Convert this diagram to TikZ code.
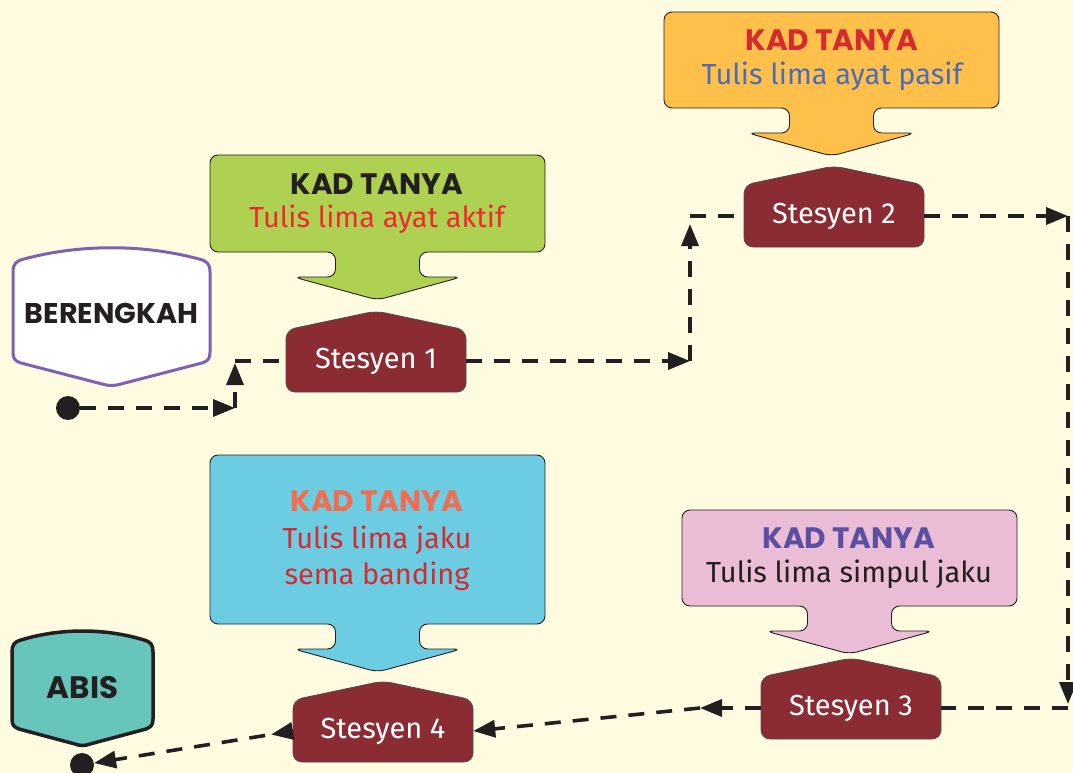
\documentclass[tikz,border=0pt]{standalone}
\usepackage{fontspec}
\setmainfont{Fira Sans}
\newfontfamily\titlefont{Poppins}
\usetikzlibrary{arrows.meta,calc}
\definecolor{bgcol}{HTML}{FEFBE0}
\definecolor{kgreen}{HTML}{AFD152}
\definecolor{korange}{HTML}{FEC04B}
\definecolor{kpink}{HTML}{EBBCD6}
\definecolor{kblue}{HTML}{6CCCE2}
\definecolor{maroon}{HTML}{8B2C34}
\definecolor{teal2}{HTML}{68C5BC}
\definecolor{purp}{HTML}{7C62B1}
\definecolor{ink}{HTML}{231F20}
\definecolor{bred}{HTML}{EE2A2F}
\definecolor{dred}{HTML}{D52A30}
\definecolor{pblue}{HTML}{4C6DB5}
\definecolor{ppurp}{HTML}{5A4FA0}
\definecolor{salmon}{HTML}{F26C4F}
\tikzset{
  cardbox/.style={draw=ink, line width=0.9pt, rounded corners=8},
  stbody/.style={fill=maroon, draw=ink!80, line width=0.8pt, rounded corners=9},
  sttext/.style={minimum width=180pt, minimum height=62pt, inner sep=0pt, text=white, font=\fontsize{29}{32}\selectfont},
  ktitle/.style={font=\titlefont\bfseries\fontsize{29.5}{32}\selectfont, inner sep=0pt},
  kbody/.style={font=\fontsize{29}{36}\selectfont, inner sep=0pt, align=center},
  badgetext/.style={font=\titlefont\bfseries\fontsize{28.5}{30}\selectfont, text=ink, inner sep=0pt},
  conn/.style={draw=ink, line width=3.6pt, dash pattern=on 16pt off 12pt},
  arr/.style={-{Triangle[length=22pt,width=17pt]}},
  dot/.style={circle, fill=ink, minimum size=24pt, inner sep=0pt},
}
\newcommand\drawkad[4]{% left x, top y, bottom y, fill
  \pgfmathsetmacro\kcx{#1+167.5}
  \draw[cardbox, fill=#4] (#1,#2) -- (#1+335,#2) -- (#1+335,#3) -- (\kcx+42,#3) -- (\kcx+42,#3+25)
    -- (\kcx+84,#3+25) -- (\kcx,#3+48) -- (\kcx-84,#3+25) -- (\kcx-42,#3+25) -- (\kcx-42,#3) -- (#1,#3) -- cycle;
}
\newcommand\stesyen[4]{% name, cx, cy, label
  \draw[stbody] (#2-90,#3+31) -- (#2-90,#3-31) -- (#2,#3-50) -- (#2+90,#3-31) -- (#2+90,#3+31) -- cycle;
  \node[sttext] (#1) at (#2,#3) {#4};
}
\begin{document}
\begin{tikzpicture}[x=1pt,y=-1pt]
\fill[bgcol] (0,0) rectangle (1073,773);
\useasboundingbox (0,0) rectangle (1073,773);

% cards
\drawkad{210}{155}{252}{kgreen}
\node[ktitle, text=ink] (k1t) at (377,184) {KAD TANYA};
\node[kbody, text=bred] (k1b) at (377,219) {Tulis lima ayat aktif};

\drawkad{664}{12}{108}{korange}
\node[ktitle, text=dred] (k2t) at (832,40) {KAD TANYA};
\node[kbody, text=pblue] (k2b) at (832,76) {Tulis lima ayat pasif};

\drawkad{682}{510}{606}{kpink}
\node[ktitle, text=ppurp] (k3t) at (849,538) {KAD TANYA};
\node[kbody, text=ink] (k3b) at (849,574) {Tulis lima simpul jaku};

\drawkad{210}{455}{624}{kblue}
\node[ktitle, text=salmon] (k4t) at (377,501) {KAD TANYA};
\node[kbody, text=dred] (k4b) at (377,558) {Tulis lima jaku\\sema banding};

% stations
\stesyen{st1}{376}{361}{Stesyen 1}
\stesyen{st2}{834}{216}{Stesyen 2}
\stesyen{st3}{851}{708}{Stesyen 3}
\stesyen{st4}{383}{731}{Stesyen 4}

% badges
\draw[draw=purp, line width=3pt, fill=white]
  (13,272) .. controls (13,264) and (16,261) .. (24,259)
  .. controls (80,244) and (143,244) .. (199,259)
  .. controls (207,261) and (210,264) .. (210,272)
  -- (210,352) .. controls (210,359) and (208,361) .. (202,363)
  -- (121,384) .. controls (114,386) and (109,386) .. (102,384)
  -- (21,363) .. controls (15,361) and (13,359) .. (13,352) -- cycle;
\node[badgetext] (mula) at (111.5,313) {BERENGKAH};

\draw[draw=ink, line width=3.5pt, fill=teal2]
  (12,652) .. controls (12,645) and (14,642) .. (21,640)
  .. controls (60,628) and (105,628) .. (144,640)
  .. controls (151,642) and (153,645) .. (153,652)
  -- (153,719) .. controls (153,725) and (151,727) .. (146,729)
  -- (90,744) .. controls (85,746) and (80,746) .. (75,744)
  -- (19,729) .. controls (14,727) and (12,725) .. (12,719) -- cycle;
\node[badgetext, font=\titlefont\bfseries\fontsize{31}{32}\selectfont] (abis) at (82.5,688) {ABIS};

% connectors
\node[dot] (start) at (68,408) {};
\node[dot] (end) at (82,765) {};
\coordinate (c1) at (235,408);
\coordinate (c2) at (235,361);
\coordinate (c3) at (690,361);
\coordinate (c4) at (690,216);
\coordinate (c5) at (1068,216);
\coordinate (c6) at (1068,708);
\coordinate (c7) at (700,708);

\draw[conn, arr] (start) -- (c1);
\draw[conn, arr, shorten >=2pt] (c1) -- (c2);
\draw[conn] (c2) -- (st1.west);
\draw[conn, arr] (st1.east) -- (c3);
\draw[conn, arr, shorten >=8pt] (c3) -- (c4);
\draw[conn] (c4) -- (st2.west);
\draw[conn, arr] (st2.east) -- (c5);
\draw[conn, arr, shorten >=4pt] (c5) -- (c6);
\draw[conn] (c6) -- (st3.east);
\draw[conn, arr] (st3.west) -- (c7);
\draw[conn, arr] (c7) -- (st4.east);
\draw[conn, arr] (st4.west) -- (end);
\draw[draw=ink, line width=3.6pt, arr] (st4.west) -- ($(st4.west)!22pt!(end)$);
\end{tikzpicture}
\end{document}
